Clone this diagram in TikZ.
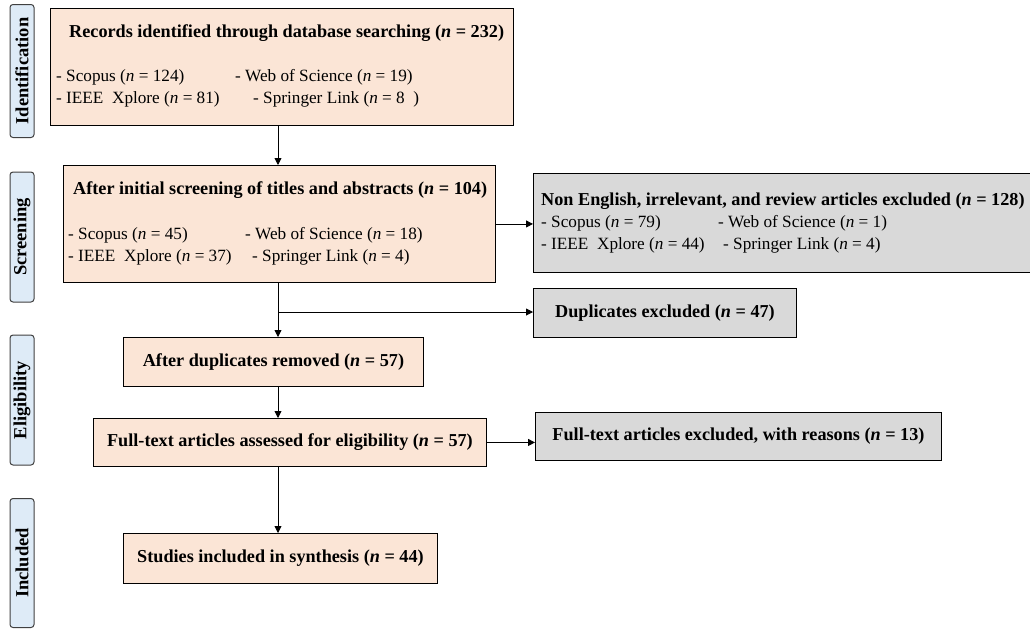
\documentclass[tikz,border=0pt]{standalone}
\usepackage{fontspec}
\setmainfont{Liberation Serif}
\usetikzlibrary{arrows.meta,calc}
\definecolor{peachc}{HTML}{FBE5D6}
\definecolor{grayc}{HTML}{D9D9D9}
\definecolor{bluec}{HTML}{DEEBF7}
\definecolor{edgec}{HTML}{404040}
\newcommand{\myn}{\textit{n}}
\newcommand{\bfs}{\fontsize{18.2}{21}\selectfont\bfseries}
\begin{document}
\begin{tikzpicture}[x=1pt,y=-1pt,
  every node/.style={font=\fontsize{17.2}{20}\selectfont},
  boxp/.style={draw=black, line width=0.9pt, fill=peachc, inner sep=0pt, anchor=north west},
  boxg/.style={draw=black, line width=0.9pt, fill=grayc, inner sep=0pt, anchor=north west},
  phase/.style={draw=edgec, line width=1pt, fill=bluec, rounded corners=3pt, minimum width=24pt, inner sep=0pt},
  phasetxt/.style={rotate=90, font=\fontsize{18.5}{21}\selectfont\bfseries},
  txt/.style={anchor=west, inner sep=0pt},
  arr/.style={-{Triangle[length=7pt,width=7pt]}, line width=0.9pt},
  ln/.style={line width=0.9pt}]
\useasboundingbox (0,0) rectangle (1030,629);

% phase labels
\node[phase, minimum height=133pt] (p1) at (22,71) {};
\node[phasetxt] (p1t) at (p1.center) {Identification};
\node[phase, minimum height=130pt] (p2) at (22,237) {};
\node[phasetxt] (p2t) at (p2.center) {Screening};
\node[phase, minimum height=130pt] (p3) at (22,400) {};
\node[phasetxt] (p3t) at (p3.center) {Eligibility};
\node[phase, minimum height=129pt] (p4) at (22,563) {};
\node[phasetxt] (p4t) at (p4.center) {Included};

% box 1
\node[boxp, minimum width=463pt, minimum height=117pt] (b1) at (50,8) {};
\node[txt, font=\bfs] (b1t) at (69,33) {Records identified through database searching (\myn{} = 232)};
\node[txt] (b1a) at (56,77) {\makebox[179pt][l]{- Scopus (\myn{} = 124)}- Web of Science (\myn{} = 19)};
\node[txt] (b1b) at (56,99) {\makebox[197pt][l]{- IEEE\ \ Xplore (\myn{} = 81)}- Springer Link (\myn{} = 8\ \ )};

% box 2
\node[boxp, minimum width=432pt, minimum height=117pt] (b2) at (63,165) {};
\node[txt, font=\bfs] (b2t) at (73,190) {After initial screening of titles and abstracts (\myn{} = 104)};
\node[txt] (b2a) at (68,235) {\makebox[177pt][l]{- Scopus (\myn{} = 45)}- Web of Science (\myn{} = 18)};
\node[txt] (b2b) at (68,257) {\makebox[184pt][l]{- IEEE\ \ Xplore (\myn{} = 37)}- Springer Link (\myn{} = 4)};

% excluded 1
\node[boxg, minimum width=500pt, minimum height=99pt] (e1) at (533,173) {};
\node[txt, font=\bfs] (e1t) at (541,201) {Non English, irrelevant, and review articles excluded (\myn{} = 128)};
\node[txt] (e1a) at (541,223) {\makebox[177pt][l]{- Scopus (\myn{} = 79)}- Web of Science (\myn{} = 1)};
\node[txt] (e1b) at (541,245) {\makebox[182pt][l]{- IEEE\ \ Xplore (\myn{} = 44)}- Springer Link (\myn{} = 4)};

% duplicates
\node[boxg, minimum width=263pt, minimum height=49pt, font=\bfs] (d) at (533,288) {Duplicates excluded (\myn{} =\ 47)};

% box 3
\node[boxp, minimum width=300pt, minimum height=49pt, font=\bfs] (b3) at (123,337) {After duplicates removed (\myn{} = 57)};

% box 4
\node[boxp, minimum width=393pt, minimum height=48pt, font=\bfs] (b4) at (93,418) {Full-text articles assessed for eligibility (\myn{} = 57)};

% excluded 2
\node[boxg, minimum width=406pt, minimum height=48pt, font=\bfs] (e2) at (535,412) {Full-text articles excluded, with reasons (\myn{} = 13)};

% box 5
\node[boxp, minimum width=314pt, minimum height=50pt, font=\bfs] (b5) at (123,533) {Studies included in synthesis (\myn{} = 44)};

% trunk
\coordinate (tr) at (278,0);
\coordinate (br) at (278,312);

\draw[arr] (b1.south -| tr) -- (b2.north -| tr);
\draw[arr] (b2.east) -- (b2.east -| e1.west);
\draw[ln] (b2.south -| tr) -- (br);
\draw[arr] (br) -- (b3.north -| tr);
\draw[arr] (br) -- (br -| d.west);
\draw[arr] (b3.south -| tr) -- (b4.north -| tr);
\draw[arr] (b4.east) -- (b4.east -| e2.west);
\draw[arr] (b4.south -| tr) -- (b5.north -| tr);
\end{tikzpicture}
\end{document}
